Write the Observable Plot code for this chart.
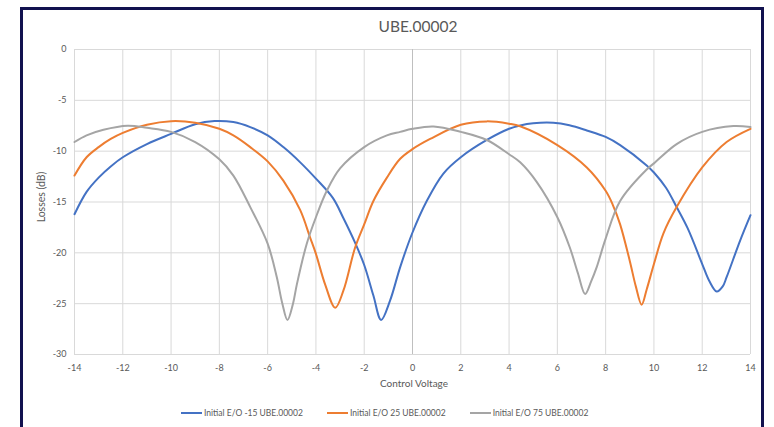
<!DOCTYPE html>
<html><head><meta charset="utf-8">
<script src="https://cdn.jsdelivr.net/npm/d3@7"></script>
<script src="https://cdn.jsdelivr.net/npm/@observablehq/plot@0.6"></script>
<style>
body{margin:0;background:#fff;font-family:Lato,"Open Sans",sans-serif;}
#wrap{position:relative;width:774px;height:427px;overflow:hidden;background:#fff;}
#frame{position:absolute;left:20px;top:7px;width:744px;height:440px;border:3px solid #12124f;box-sizing:border-box;pointer-events:none;}
#chart{position:absolute;left:0;top:0;}
.t{position:absolute;color:#595959;white-space:nowrap;}
#title{left:0;width:836px;top:17px;text-align:center;font-size:15.5px;}
#xlab{left:0;width:828px;top:377px;text-align:center;font-size:10px;}
#ylab{left:41px;top:197px;font-size:10.5px;transform:translate(-50%,-50%) rotate(-90deg);}
#legend{position:absolute;left:181px;top:408px;display:flex;gap:24px;font-size:8.5px;color:#595959;}
.item{display:flex;align-items:center;gap:2px;}
.sw{width:21px;height:2px;display:inline-block;}
</style></head>
<body>
<div id="wrap">
  <div id="chart"></div>
  <div class="t" id="title">UBE.00002</div>
  <div class="t" id="xlab">Control Voltage</div>
  <div class="t" id="ylab">Losses (dB)</div>
  <div id="legend"></div>
  <div id="frame"></div>
</div>
<script>
// Tick values
const xTicks = [-14,-12,-10,-8,-6,-4,-2,0,2,4,6,8,10,12,14];
const yTicks = [0,-5,-10,-15,-20,-25,-30];

// Series names and colors
const seriesNames = ["Initial E/O -15 UBE.00002","Initial E/O 25 UBE.00002","Initial E/O 75 UBE.00002"];
const seriesColors = ["#4472C4","#ED7D31","#A5A5A5"];

// Series 1 (blue): control voltage and losses (dB)
const blueV  = [-14,-13.5,-13,-12.5,-12,-11,-10,-9,-8.2,-7.42,-6.72,-6,-5.35,-4.65,-4,-3.3,-2.86,-2.38,-2,-1.62,-1.3,-0.93,-0.51,0,0.59,1.28,2,3.08,4,4.46,5,5.83,6.5,7.22,8,8.6,9.7,10,10.5,10.94,11.4,12,12.3,12.6,12.85,13.01,13.57,14];
const blueDb = [-16.2,-14.0,-12.6,-11.5,-10.6,-9.3,-8.3,-7.35,-7.04,-7.14,-7.63,-8.45,-9.6,-11.1,-12.7,-14.6,-16.6,-19.0,-21.2,-24.2,-26.6,-24.7,-21.4,-18.0,-14.9,-12.2,-10.6,-8.9,-7.8,-7.47,-7.25,-7.2,-7.45,-7.96,-8.6,-9.4,-11.4,-12.1,-13.6,-15.5,-17.6,-21.1,-22.8,-23.8,-23.3,-22.4,-18.8,-16.3];

// Series 2 (orange)
const orangeV  = [-14,-13.5,-13,-12.5,-12,-11,-10,-9,-8,-7.42,-6.72,-6,-5.35,-4.65,-4.24,-4,-3.62,-3.2,-2.86,-2.38,-2,-1.62,-1.06,-0.51,0,0.73,2,3.08,4,4.46,6,7.22,8,8.3,8.6,9.0,9.25,9.49,9.7,10,10.39,10.94,12,13.01,14];
const orangeDb = [-12.4,-10.6,-9.6,-8.8,-8.2,-7.4,-7.05,-7.2,-7.8,-8.45,-9.6,-11.0,-12.9,-15.8,-18.5,-20.1,-23.1,-25.4,-23.7,-19.5,-17.2,-14.9,-12.6,-10.75,-9.8,-8.8,-7.4,-7.07,-7.3,-7.55,-9.4,-11.6,-13.9,-15.3,-17.2,-20.8,-23.3,-25.1,-23.6,-21.1,-18.1,-15.5,-11.6,-9.1,-7.8];

// Series 3 (gray)
const grayV  = [-14,-13.5,-12.8,-11.8,-11,-10,-9,-8,-7.42,-6.72,-6,-5.62,-5.4,-5.18,-4.95,-4.79,-4.38,-4,-3.55,-3.0,-2,-1.06,-0.51,0,0.87,2,3.08,4,4.46,5.15,6,6.52,6.85,7.15,7.4,7.63,8,8.6,9.7,10,10.94,12,13.29,14];
const grayDb = [-9.1,-8.45,-7.9,-7.5,-7.7,-8.1,-9.1,-10.8,-12.4,-15.5,-19.1,-22.4,-24.9,-26.6,-25.0,-23.1,-19.1,-16.5,-13.9,-11.7,-9.6,-8.45,-8.1,-7.8,-7.57,-8.1,-8.9,-10.3,-11.1,-13.05,-16.5,-19.5,-22.0,-24.05,-22.8,-21.4,-18.6,-14.9,-11.8,-11.2,-9.3,-8.1,-7.53,-7.63];

const toRows = (vs, ds, s) => vs.map((v, i) => ({v, db: ds[i], s}));
const rows = [
  ...toRows(blueV, blueDb, seriesNames[0]),
  ...toRows(orangeV, orangeDb, seriesNames[1]),
  ...toRows(grayV, grayDb, seriesNames[2])
];

const chart = Plot.plot({
  width: 774,
  height: 427,
  marginLeft: 74,
  marginRight: 24,
  marginTop: 49,
  marginBottom: 73,
  style: {fontFamily: "Lato, 'Open Sans', sans-serif", fontSize: "9px", color: "#595959", background: "transparent", overflow: "visible"},
  x: {domain: [-14, 14], ticks: xTicks, tickSize: 0, tickPadding: 10, label: null, tickFormat: d => String(d)},
  y: {domain: [-30, 0], ticks: yTicks, tickSize: 0, tickPadding: 8, label: null, tickFormat: d => String(d)},
  color: {domain: seriesNames, range: seriesColors},
  marks: [
    Plot.ruleX(xTicks, {stroke: "#d9d9d9", strokeWidth: 1}),
    Plot.ruleY(yTicks, {stroke: "#d9d9d9", strokeWidth: 1}),
    Plot.ruleX([0], {stroke: "#bfbfbf", strokeWidth: 1}),
    Plot.line(rows, {x: "v", y: "db", z: "s", stroke: "s", strokeWidth: 2, curve: "catmull-rom"})
  ]
});
document.getElementById("chart").appendChild(chart);

const legend = document.getElementById("legend");
seriesNames.forEach((n, i) => {
  const it = document.createElement("div");
  it.className = "item";
  it.innerHTML = `<span class="sw" style="background:${seriesColors[i]}"></span><span>${n}</span>`;
  legend.appendChild(it);
});
</script>
</body></html>
